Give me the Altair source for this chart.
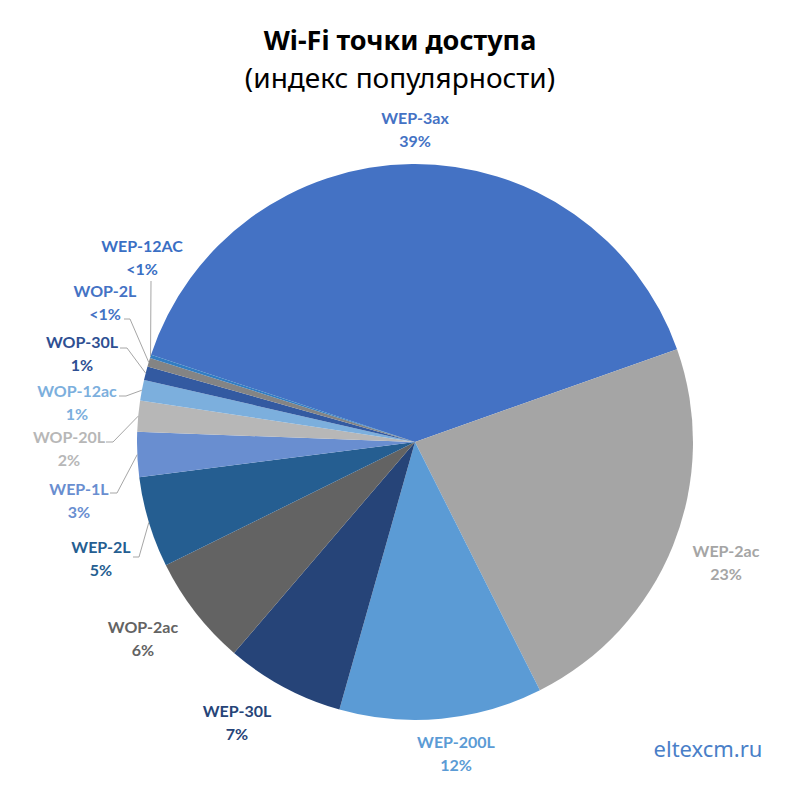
import math
import altair as alt
import pandas as pd

# ---------------- data ----------------
models = ["WEP-3ax", "WEP-2ac", "WEP-200L", "WEP-30L", "WOP-2ac", "WEP-2L",
          "WEP-1L", "WOP-20L", "WOP-12ac", "WOP-30L", "WOP-2L", "WEP-12AC"]
shares = [39.5, 23.0, 11.8, 6.9, 6.4, 5.3, 2.6, 1.8, 1.2, 0.8, 0.5, 0.2]
pct_labels = ["39%", "23%", "12%", "7%", "6%", "5%", "3%", "2%", "1%", "1%", "<1%", "<1%"]

# ---------------- styles ----------------
slice_colors = ["#4472C4", "#A5A5A5", "#5B9BD5", "#264478", "#636363", "#255E91",
                "#698ED0", "#B7B7B7", "#7CAFDD", "#335AA1", "#848484", "#327DC2"]
label_colors = ["#4472C4", "#A5A5A5", "#5B9BD5", "#264478", "#636363", "#255E91",
                "#698ED0", "#B7B7B7", "#7CAFDD", "#2E4F92", "#4472C4", "#3A6FC4"]

# ---------------- layout (page pixels) ----------------
M = 8                      # page margin
CX, CY, R = 415, 442, 278  # pie centre and radius
START_DEG = 288.3          # angle (clockwise from 12 o'clock) where first slice starts
LINE_H = 23
# (centre x, y of first label line)
label_pos = [(415, 119), (726, 552), (456, 743), (237, 712), (143, 628), (101, 548),
             (79, 490), (69, 438), (77, 392), (82, 343), (105, 292), (142, 247)]
leader_start = [None, None, None, None, None, (133, 557), (110, 493), (106, 442),
                (119, 396), (120, 348), (124, 319), (151, 281)]
leader_elbow = [None, None, None, None, None, 6, 7, 7, 7, 7, 6, 0]

start = math.radians(START_DEG)

pie_df = pd.DataFrame({
    "model": models,
    "share": shares,
    "idx": list(range(len(models))),
    "color": slice_colors,
})

pie = alt.Chart(pie_df).mark_arc(radius=R).encode(
    theta=alt.Theta("share:Q", stack=True,
                    scale=alt.Scale(range=[start, start + 2 * math.pi])),
    order=alt.Order("idx:Q"),
    color=alt.Color("color:N", scale=None),
    x=alt.value(CX - M),
    y=alt.value(CY - M),
)

# label table
lab_df = pd.DataFrame({
    "text": [f"{m}\n{p}" for m, p in zip(models, pct_labels)],
    "x": [p[0] - M for p in label_pos],
    "y": [p[1] - M for p in label_pos],
    "lc": label_colors,
})
labels = alt.Chart(lab_df).mark_text(
    font="Lato", fontWeight="bold", fontSize=16, lineBreak="\n", lineHeight=LINE_H,
    align="center", baseline="middle",
).encode(
    x=alt.X("x:Q", scale=None),
    y=alt.Y("y:Q", scale=None),
    text="text:N",
    color=alt.Color("lc:N", scale=None),
)

# leader lines: label -> elbow -> slice edge at its mid angle
total = sum(shares)
rows = []
cum = 0.0
for i, s in enumerate(shares):
    mid = START_DEG + (cum + s / 2) / total * 360.0
    cum += s
    if leader_start[i] is None:
        continue
    ex = CX + R * math.sin(math.radians(mid))
    ey = CY - R * math.cos(math.radians(mid))
    sx, sy = leader_start[i]
    pts = [(sx, sy)]
    if leader_elbow[i]:
        pts.append((sx + leader_elbow[i], sy))
    pts.append((ex, ey))
    for k, (px, py) in enumerate(pts):
        rows.append({"line": models[i], "k": k, "x": px - M, "y": py - M})
lead_df = pd.DataFrame(rows)
leaders = alt.Chart(lead_df).mark_line(color="#A6A6A6", strokeWidth=1).encode(
    x=alt.X("x:Q", scale=None),
    y=alt.Y("y:Q", scale=None),
    detail="line:N",
    order="k:Q",
)

title = alt.Chart(pd.DataFrame({"t": ["Wi-Fi точки доступа"]})).mark_text(
    font="Noto Sans", fontWeight="bold", fontSize=27, align="center",
    baseline="alphabetic", color="#000000",
).encode(text="t:N", x=alt.value(400 - M), y=alt.value(50 - M))

subtitle = alt.Chart(pd.DataFrame({"t": ["(индекс популярности)"]})).mark_text(
    font="Noto Sans", fontSize=28, align="center", baseline="alphabetic",
    color="#000000",
).encode(text="t:N", x=alt.value(400 - M), y=alt.value(88 - M))

brand = alt.Chart(pd.DataFrame({"t": ["eltexcm.ru"]})).mark_text(
    font="Noto Sans", fontSize=22, align="center", baseline="alphabetic",
    color="#4A7FC8",
).encode(text="t:N", x=alt.value(708 - M), y=alt.value(757 - M))

chart = alt.layer(pie, leaders, labels, title, subtitle, brand).properties(
    width=784, height=784, autosize="none", padding=0,
    background="#FFFFFF",
).configure_view(stroke=None)

chart.save("out.html", embed_options={"renderer": "svg", "actions": False})
